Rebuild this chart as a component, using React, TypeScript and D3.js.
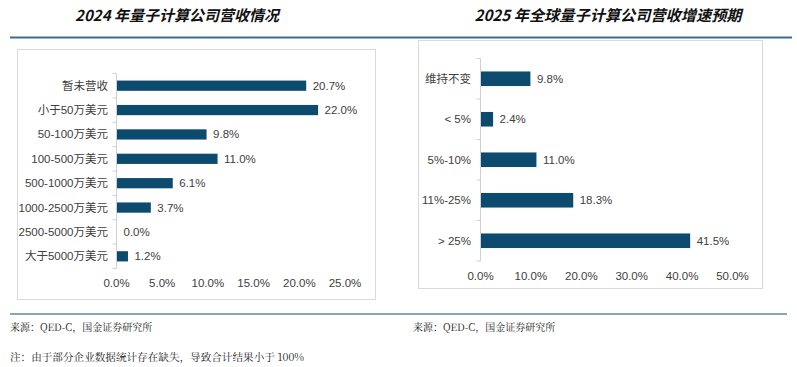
import React from 'react';
import * as d3 from 'd3';

const leftCategories = ['暂未营收', '小于50万美元', '50-100万美元', '100-500万美元', '500-1000万美元', '1000-2500万美元', '2500-5000万美元', '大于5000万美元'];
const leftValues = [20.7, 22.0, 9.8, 11.0, 6.1, 3.7, 0.0, 1.2];
const leftTicks = [0, 5, 10, 15, 20, 25];

const rightCategories = ['维持不变', '< 5%', '5%-10%', '11%-25%', '> 25%'];
const rightValues = [9.8, 2.4, 11.0, 18.3, 41.5];
const rightTicks = [0, 10, 20, 30, 40, 50];

const BAR = '#0c4a6e';
const TEXT = '#404040';
const FONT = '"Liberation Sans", Arial, "Noto Sans CJK SC", sans-serif';
const SERIF = '"Noto Serif CJK SC", "Liberation Serif", "Noto Sans CJK SC", serif';

interface BarProps {
  cats: string[];
  vals: number[];
  ticks: number[];
  x0: number;
  x1: number;
  y0: number;
  y1: number;
  padding: number;
  labelX: number;
  tickY: number;
}

const BarChart: React.FC<BarProps> = ({ cats, vals, ticks, x0, x1, y0, y1, padding, labelX, tickY }) => {
  const x = d3.scaleLinear().domain([ticks[0], ticks[ticks.length - 1]]).range([x0, x1]);
  const y = d3.scaleBand().domain(cats).range([y0, y1]).paddingInner(padding).paddingOuter(padding / 2);
  const step = y.step();
  const bounds = d3.range(cats.length + 1).map(i => y0 + i * step);
  return (
    <g>
      <line x1={x0} x2={x0} y1={y0} y2={y1} stroke="#d0d0d0" />
      {bounds.map((b, i) => (
        <line key={i} x1={x0 - 4} x2={x0} y1={b} y2={b} stroke="#d0d0d0" />
      ))}
      {cats.map((c, i) => (
        <g key={c}>
          {vals[i] > 0 && (
            <rect x={x(0) + 0.5} y={y(c)} width={x(vals[i]) - x(0)} height={y.bandwidth()} fill={BAR} />
          )}
          <text x={labelX} y={(y(c) || 0) + y.bandwidth() / 2} dy="0.35em" textAnchor="end" fontSize={11.5} fill={TEXT}>{c}</text>
          <text x={x(vals[i]) + 7} y={(y(c) || 0) + y.bandwidth() / 2} dy="0.35em" fontSize={11.5} fill={TEXT}>{vals[i].toFixed(1)}%</text>
        </g>
      ))}
      {ticks.map(t => (
        <text key={t} x={x(t)} y={tickY} dy="0.35em" textAnchor="middle" fontSize={11.5} fill={TEXT}>{t.toFixed(1)}%</text>
      ))}
    </g>
  );
};

export default function App() {
  return (
    <svg width={797} height={367} style={{ position: 'fixed', left: 0, top: 0, background: '#fff' }} fontFamily={FONT}>
      <rect width={797} height={367} fill="#fff" />
      <text x={177} y={21} textAnchor="middle" fontSize={15} fontWeight="bold" fontStyle="italic" fill="#111" fontFamily={'"Noto Sans CJK SC", sans-serif'}>2024 年量子计算公司营收情况</text>
      <text x={608} y={21} textAnchor="middle" fontSize={15.2} fontWeight="bold" fontStyle="italic" fill="#111" fontFamily={'"Noto Sans CJK SC", sans-serif'}>2025 年全球量子计算公司营收增速预期</text>
      <line x1={10} x2={792} y1={37.5} y2={37.5} stroke="#3d6e88" strokeWidth={2} />
      <rect x={17.5} y={49.5} width={358} height={250} fill="none" stroke="#dadada" />
      <rect x={418.5} y={40.5} width={344} height={248} fill="none" stroke="#dadada" />
      <BarChart cats={leftCategories} vals={leftValues} ticks={leftTicks} x0={116.5} x1={345} y0={73.5} y1={268.5} padding={0.58} labelX={108} tickY={283} />
      <BarChart cats={rightCategories} vals={rightValues} ticks={rightTicks} x0={480.5} x1={732.5} y0={58.5} y1={261} padding={0.64} labelX={471} tickY={276} />
      <line x1={10} x2={787} y1={314} y2={314} stroke="#5b8aa3" strokeWidth={1.5} />
      <text x={10} y={331} fontSize={10} fill="#222" fontFamily={SERIF}>来源：QED-C，国金证券研究所</text>
      <text x={413} y={331} fontSize={10} fill="#222" fontFamily={SERIF}>来源：QED-C，国金证券研究所</text>
      <text x={10} y={361} fontSize={10.6} fill="#222" fontFamily={SERIF}>注：由于部分企业数据统计存在缺失，导致合计结果小于 100%</text>
    </svg>
  );
}
